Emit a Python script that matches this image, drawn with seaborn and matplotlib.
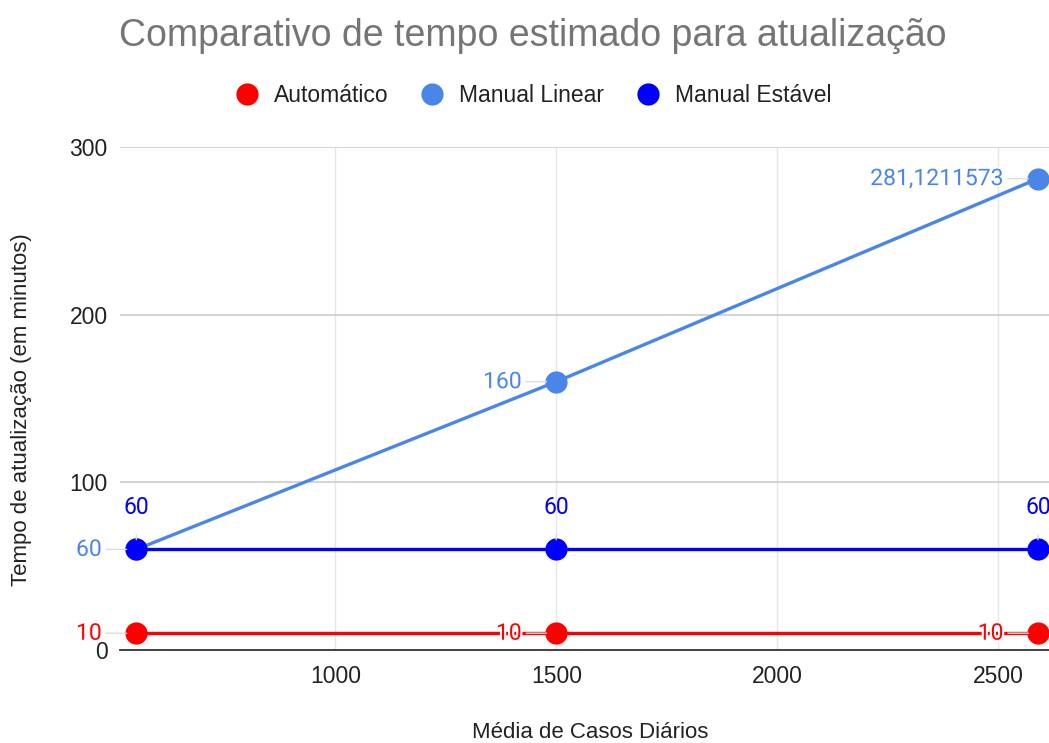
import matplotlib
matplotlib.use("Agg")
import matplotlib.pyplot as plt
import matplotlib.patheffects as pe
from matplotlib.lines import Line2D
import seaborn as sns
import pandas as pd

# Data
casos = [550, 1500, 2590]
automatico = [10, 10, 10]
manual_linear = [60, 160, 281.1211573]
manual_estavel = [60, 60, 60]
series_names = ["Automático", "Manual Linear", "Manual Estável"]
series_colors = ["#ff0000", "#4a86e8", "#0000ff"]
x_ticks = [1000, 1500, 2000, 2500]
y_ticks = [0, 100, 200, 300]

title = "Comparativo de tempo estimado para atualização"
x_label = "Média de Casos Diários"
y_label = "Tempo de atualização (em minutos)"

df = pd.DataFrame({
    "casos": casos * 3,
    "tempo": automatico + manual_linear + manual_estavel,
    "serie": [series_names[0]] * 3 + [series_names[1]] * 3 + [series_names[2]] * 3,
})

sns.set_theme(style="white")
plt.rcParams["font.family"] = ["Liberation Sans", "DejaVu Sans"]

fig = plt.figure(figsize=(10.49, 7.43), dpi=100)
ax = fig.add_axes([0.1144, 0.1252, 0.8857, 0.677])

palette = dict(zip(series_names, series_colors))
sns.lineplot(data=df, x="casos", y="tempo", hue="serie", hue_order=series_names,
             palette=palette, marker="o", markersize=16, markeredgewidth=0,
             linewidth=2.4, legend=False, ax=ax, zorder=3)

ax.set_xlim(513, 2615)
ax.set_ylim(0, 300)
ax.set_xticks(x_ticks)
ax.set_yticks(y_ticks)
ax.tick_params(axis="both", length=0, labelsize=16.5, colors="#222222")
ax.tick_params(axis="y", pad=9)
ax.tick_params(axis="x", pad=11)

for x in x_ticks:
    ax.axvline(x, color="#e6e6e6", lw=1, zorder=0)
for y in y_ticks[1:]:
    ax.axhline(y, color="#cccccc", lw=1.2, zorder=0)

for s in ["top", "right", "left"]:
    ax.spines[s].set_visible(False)
ax.spines["bottom"].set_color("#333333")
ax.spines["bottom"].set_linewidth(1.3)
ax.spines["bottom"].set_zorder(2)

ax.set_xlabel(x_label, fontsize=16, color="#222222", va="center")
ax.xaxis.set_label_coords(0.506, -0.165)
ax.set_ylabel(y_label, fontsize=16, color="#222222", va="center")
ax.yaxis.set_label_coords(-0.1055, 0.477)

fig.suptitle(title, x=0.508, y=0.976, fontsize=27, color="#757575", va="top")

# Data labels
halo = [pe.withStroke(linewidth=3, foreground="white")]
lab_font = dict(family=["Roboto", "DejaVu Sans"], fontsize=16.5)


def fmt(v):
    return f"{v:.10g}".replace(".", ",")


def label_left(xs, ys, color):
    for x, y in zip(xs, ys):
        ax.annotate(fmt(y), xy=(x, y), xytext=(-25, 0), textcoords="offset points",
                    ha="right", va="center", color=color, annotation_clip=False,
                    path_effects=halo, zorder=5,
                    arrowprops=dict(arrowstyle="-", color="#dddddd", lw=1,
                                    shrinkA=1, shrinkB=7),
                    **lab_font)


def label_above(xs, ys, color):
    for x, y in zip(xs, ys):
        ax.annotate(fmt(y), xy=(x, y), xytext=(0, 30), textcoords="offset points",
                    ha="center", va="center", color=color, annotation_clip=False,
                    zorder=5,
                    arrowprops=dict(arrowstyle="-", color="#dddddd", lw=1,
                                    shrinkA=9, shrinkB=7),
                    **lab_font)


label_left(casos, automatico, series_colors[0])
label_left(casos, manual_linear, series_colors[1])
label_above(casos, manual_estavel, series_colors[2])

handles = [Line2D([], [], marker="o", linestyle="none", markersize=16,
                  markerfacecolor=c, markeredgewidth=0) for c in series_colors]
fig.legend(handles, series_names, loc="center", bbox_to_anchor=(0.5086, 0.871),
           ncol=3, frameon=False, fontsize=16.5, handlelength=1.0,
           handletextpad=0.68, columnspacing=1.4, labelcolor="#222222")

fig.savefig("out.png", dpi=100)
